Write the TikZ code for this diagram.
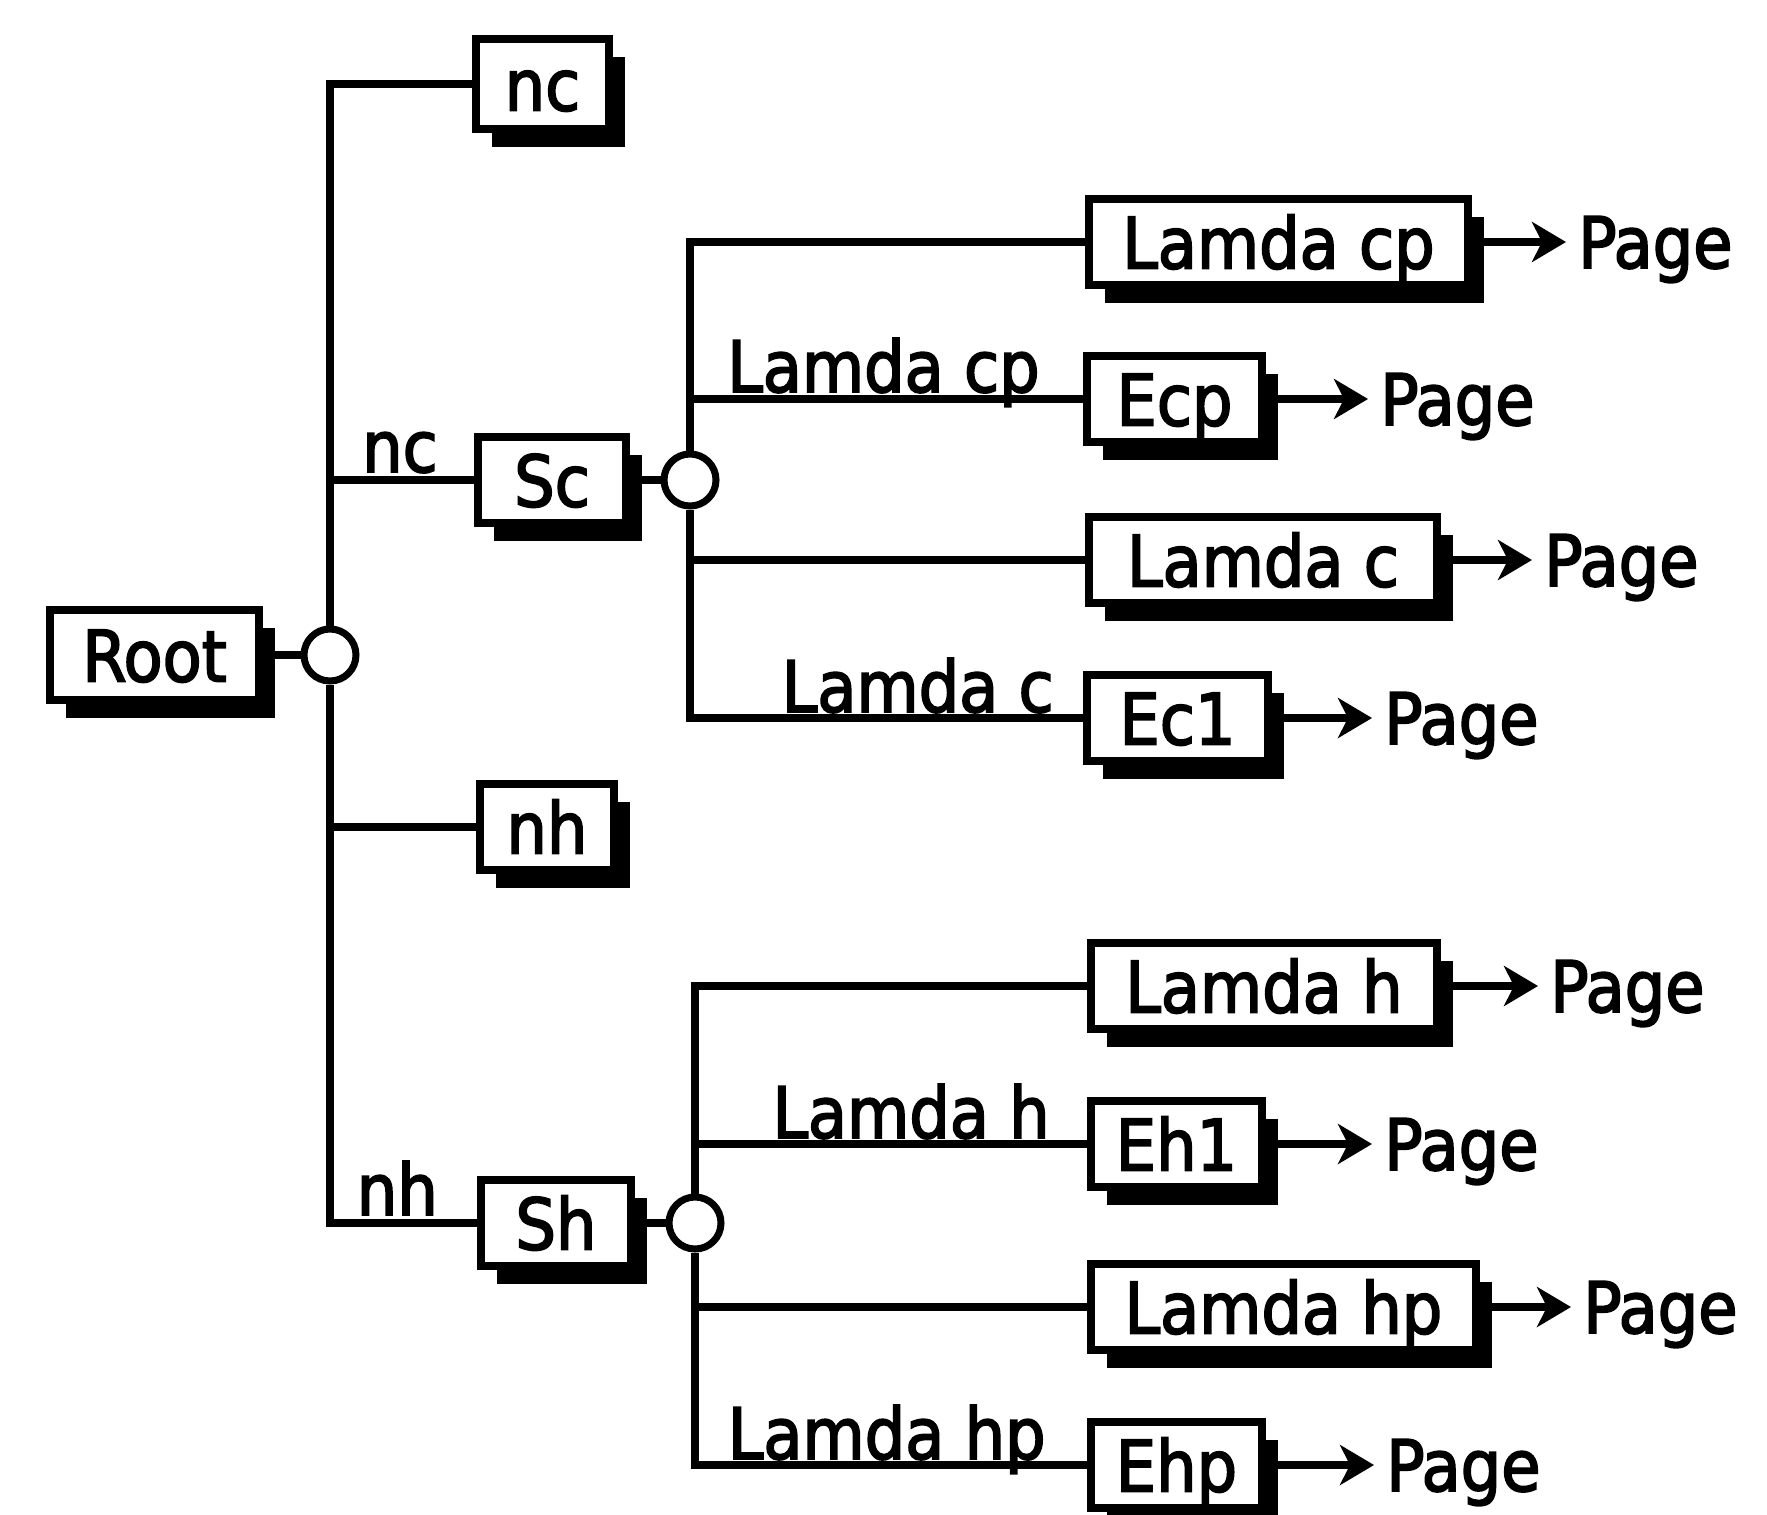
\documentclass[tikz,border=0pt]{standalone}
\usepackage{fontspec}
\setmainfont{DejaVu Sans Condensed}[FakeBold=2.5]
\usetikzlibrary{shadows,arrows.meta}
\begin{document}
\begin{tikzpicture}[x=1pt,y=-1pt,
  every node/.style={font=\fontsize{71}{80}\selectfont},
  box/.style={draw, line width=8pt, fill=white, inner sep=0pt, minimum height=86pt,
    text height=53pt, text depth=0pt, anchor=west,
    drop shadow={shadow xshift=16pt, shadow yshift=-18pt, opacity=1, fill=black}},
  dot/.style={circle, draw, line width=7pt, fill=white, minimum size=52pt, inner sep=0pt},
  conn/.style={line width=8pt},
  lbl/.style={inner sep=0pt, anchor=base east},
  pg/.style={inner sep=0pt, anchor=base west},
  arr/.style={line width=8pt, -{Stealth[length=34pt,width=40pt,inset=10pt]}, shorten >=12pt}
]
\useasboundingbox (0,0) rectangle (1767,1515);
\clip (0,0) rectangle (1767,1515);
\fill[white] (0,0) rectangle (1767,1515);

% main level
\node[box, minimum width=209pt, minimum height=90pt] (root) at (46,655) {Root};
\node[dot] (rc) at (330,655) {};
\node[box, minimum width=133pt, minimum height=90pt] (nc1) at (472,84) {nc};
\node[box, minimum width=148pt] (sc) at (474,480) {Sc};
\node[box, minimum width=134pt] (nh) at (476,827) {nh};
\node[box, minimum width=150pt] (sh) at (477,1223) {Sh};

\draw[conn] (root.east) -- (rc.west);
\draw[conn] (rc.north) |- (nc1.west);
\draw[conn] (rc.south) |- (sh.west);
\draw[conn] (sc.west) -- (sc.west -| rc.north);
\draw[conn] (nh.west) -- (nh.west -| rc.south);

\node[lbl] (lnc) at (438,472) {nc};
\node[lbl] (lnh) at (438,1215) {nh};

% Sc group
\node[dot] (scc) at (690,480) {};
\draw[conn] (sc.east) -- (scc.west);
\node[box, minimum width=379pt] (lcp) at (1085,242) {Lamda cp};
\node[box, minimum width=175pt] (ecp) at (1083,399) {Ecp};
\node[box, minimum width=348pt] (lc) at (1085,560) {Lamda c};
\node[box, minimum width=181pt] (ec1) at (1083,718) {Ec1};
\draw[conn] (scc.north) |- (lcp.west);
\draw[conn] (scc.north) |- (ecp.west);
\draw[conn] (scc.south) |- (lc.west);
\draw[conn] (scc.south) |- (ec1.west);
\node[lbl] (llcp) at (1040,392) {Lamda cp};
\node[lbl] (llc) at (1054,712) {Lamda c};

\node[pg] (pg1) at (1578,268) {Page};
\node[pg] (pg2) at (1380,425) {Page};
\node[pg] (pg3) at (1544,586) {Page};
\node[pg] (pg4) at (1384,744) {Page};
\draw[arr] (lcp.east) -- (lcp.east -| pg1.west);
\draw[arr] (ecp.east) -- (ecp.east -| pg2.west);
\draw[arr] (lc.east) -- (lc.east -| pg3.west);
\draw[arr] (ec1.east) -- (ec1.east -| pg4.west);

% Sh group
\node[dot] (shc) at (695,1223) {};
\draw[conn] (sh.east) -- (shc.west);
\node[box, minimum width=346pt] (lh) at (1087,986) {Lamda h};
\node[box, minimum width=171pt] (eh1) at (1087,1144) {Eh1};
\node[box, minimum width=385pt] (lhp) at (1087,1307) {Lamda hp};
\node[box, minimum width=171pt] (ehp) at (1087,1465) {Ehp};
\draw[conn] (shc.north) |- (lh.west);
\draw[conn] (shc.north) |- (eh1.west);
\draw[conn] (shc.south) |- (lhp.west);
\draw[conn] (shc.south) |- (ehp.west);
\node[lbl] (llh) at (1050,1138) {Lamda h};
\node[lbl] (llhp) at (1046,1459) {Lamda hp};

\node[pg] (pg5) at (1550,1012) {Page};
\node[pg] (pg6) at (1384,1170) {Page};
\node[pg] (pg7) at (1583,1333) {Page};
\node[pg] (pg8) at (1386,1491) {Page};
\draw[arr] (lh.east) -- (lh.east -| pg5.west);
\draw[arr] (eh1.east) -- (eh1.east -| pg6.west);
\draw[arr] (lhp.east) -- (lhp.east -| pg7.west);
\draw[arr] (ehp.east) -- (ehp.east -| pg8.west);
\end{tikzpicture}
\end{document}
